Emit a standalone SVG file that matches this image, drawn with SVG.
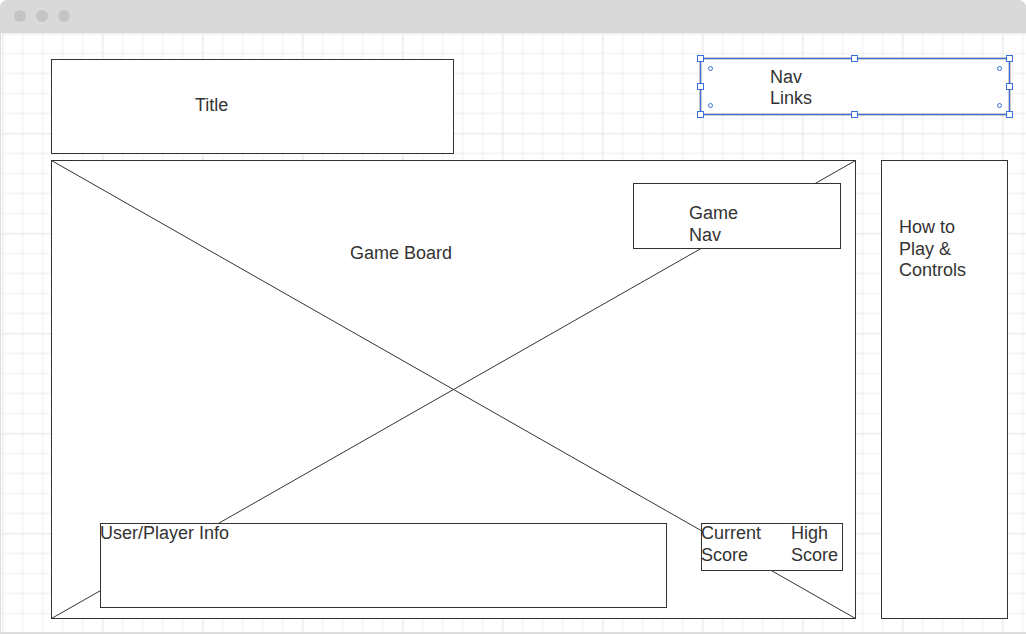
<svg xmlns="http://www.w3.org/2000/svg" width="1026" height="635" viewBox="0 0 1026 635">
<defs>
<pattern id="minor" x="2.5" y="33.5" width="20" height="20" patternUnits="userSpaceOnUse">
<path d="M20 0V20M0 20H20" fill="none" stroke="#ececec" stroke-width="1"/>
<path d="M0 0V20M0 0H20" fill="none" stroke="#ececec" stroke-width="1"/>
</pattern>
<pattern id="major" x="2.5" y="33.5" width="100" height="100" patternUnits="userSpaceOnUse">
<path d="M0 0V100M0 0H100" fill="none" stroke="#e0e0e0" stroke-width="1"/>
</pattern>
</defs>
<style>
.box{fill:#fff;stroke:#333;stroke-width:1}
.ln{stroke:#333;stroke-width:1;fill:none}
.t{font-family:"Liberation Sans",Arial,sans-serif;font-size:18px;fill:#333}
.h{fill:#fff;stroke:#3b6fe0;stroke-width:1}
</style>
<rect x="0" y="0" width="1026" height="635" fill="#fff"/>
<g id="grid">
<rect x="2" y="33" width="1024" height="599" fill="url(#minor)"/>
<rect x="2" y="33" width="1024" height="599" fill="url(#major)"/>
</g>
<g id="window">
<path d="M0.5 634V8A7 7 0 0 1 7.5 0.5H1018.5A7 7 0 0 1 1025.5 8" fill="none" stroke="#dcdcdc"/>
<path d="M0 8A8 8 0 0 1 8 0H1018A8 8 0 0 1 1026 8V33H0Z" fill="#d9d9d9"/>
<circle cx="20" cy="16" r="6" fill="#c4c4c4"/>
<circle cx="42" cy="16" r="6" fill="#c4c4c4"/>
<circle cx="64" cy="16" r="6" fill="#c4c4c4"/>
<line x1="0" y1="633" x2="1026" y2="633" stroke="#dcdcdc" stroke-width="2"/>
</g>
<g id="title">
<rect class="box" x="51.5" y="59.5" width="402" height="94"/>
<text class="t" x="195" y="111">Title</text>
</g>
<g id="game-board">
<rect class="box" x="51.5" y="160.5" width="804" height="458"/>
<g id="connectors">
<line class="ln" x1="51.5" y1="160.5" x2="855.5" y2="618.5"/>
<line class="ln" x1="51.5" y1="618.5" x2="855.5" y2="160.5"/>
</g>
<text class="t" x="350" y="259">Game Board</text>
</g>
<g id="game-nav">
<rect class="box" x="633.5" y="183.5" width="207" height="65"/>
<text class="t" x="689" y="219">Game</text>
<text class="t" x="689" y="240.5">Nav</text>
</g>
<g id="user-info">
<rect class="box" x="100.5" y="523.5" width="566" height="84"/>
<text class="t" x="100" y="539">User/Player Info</text>
</g>
<g id="scores">
<rect class="box" x="701.5" y="523.5" width="141" height="47"/>
<text class="t" x="701" y="539">Current</text>
<text class="t" x="701" y="560.5">Score</text>
<text class="t" x="791" y="539">High</text>
<text class="t" x="791" y="560.5">Score</text>
</g>
<g id="how-to-play">
<rect class="box" x="881.5" y="160.5" width="126" height="458"/>
<text class="t" x="899" y="233">How to</text>
<text class="t" x="899" y="254.5">Play &amp;</text>
<text class="t" x="899" y="276">Controls</text>
</g>
<g id="nav-links">
<rect x="700.5" y="58.5" width="309" height="56" fill="#fff" stroke="#333" stroke-width="1.5"/>
<rect x="700.5" y="58.5" width="309" height="56" fill="none" stroke="#3b6fe0" stroke-width="1"/>
<text class="t" x="770" y="82.5">Nav</text>
<text class="t" x="770" y="104">Links</text>
<g id="handles">
<rect class="h" x="697.5" y="55.5" width="6" height="6"/>
<rect class="h" x="851.5" y="55.5" width="6" height="6"/>
<rect class="h" x="1006.5" y="55.5" width="6" height="6"/>
<rect class="h" x="697.5" y="83.5" width="6" height="6"/>
<rect class="h" x="1006.5" y="83.5" width="6" height="6"/>
<rect class="h" x="697.5" y="111.5" width="6" height="6"/>
<rect class="h" x="851.5" y="111.5" width="6" height="6"/>
<rect class="h" x="1006.5" y="111.5" width="6" height="6"/>
<circle class="h" cx="710.5" cy="68.5" r="2"/>
<circle class="h" cx="999.5" cy="68.5" r="2"/>
<circle class="h" cx="710.5" cy="105.5" r="2"/>
<circle class="h" cx="999.5" cy="105.5" r="2"/>
</g>
</g>
</svg>
